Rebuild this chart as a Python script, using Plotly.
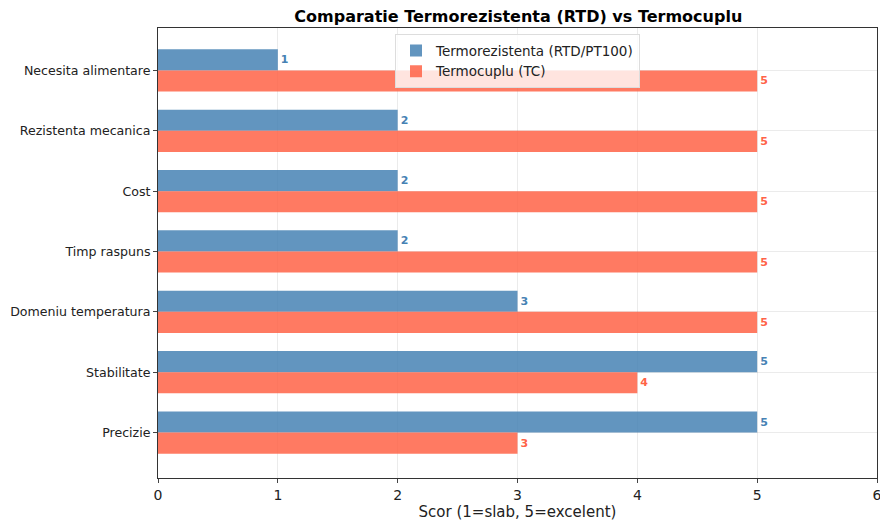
import plotly.graph_objects as go

categories = ["Precizie", "Stabilitate", "Domeniu temperatura", "Timp raspuns",
              "Cost", "Rezistenta mecanica", "Necesita alimentare"]
rtd_scores = [5, 5, 3, 2, 2, 2, 1]
tc_scores = [3, 4, 5, 5, 5, 5, 5]
x_ticks = [0, 1, 2, 3, 4, 5, 6]

pos = list(range(len(categories)))
h = 0.35

fig = go.Figure()
fig.add_trace(go.Bar(
    y=pos, x=rtd_scores, orientation="h", name="Termorezistenta (RTD/PT100)",
    width=h, offset=0, marker=dict(color="rgba(70,130,180,0.85)", line_width=0),
    text=[f"<b>{v}</b>" for v in rtd_scores], textposition="outside",
    outsidetextfont=dict(color="#4682B4", size=11), cliponaxis=False,
))
fig.add_trace(go.Bar(
    y=pos, x=tc_scores, orientation="h", name="Termocuplu (TC)",
    width=h, offset=-h, marker=dict(color="rgba(255,99,71,0.85)", line_width=0),
    text=[f"<b>{v}</b>" for v in tc_scores], textposition="outside",
    outsidetextfont=dict(color="#FF6347", size=11), cliponaxis=False,
))

fig.update_layout(
    width=880, height=524,
    margin=dict(l=158, r=3, t=28, b=46, autoexpand=False),
    plot_bgcolor="white", paper_bgcolor="white",
    font=dict(family="DejaVu Sans", size=12, color="#222"),
    title=dict(text="<b>Comparatie Termorezistenta (RTD) vs Termocuplu</b>",
               x=0.589, xanchor="center", y=0.969, yanchor="middle",
               font=dict(size=16, color="black")),
    barmode="overlay",
    showlegend=True,
    legend=dict(x=0.5, xanchor="center", y=0.986, yanchor="top",
                bgcolor="rgba(255,255,255,0.8)", bordercolor="#ddd", borderwidth=1,
                font=dict(size=13.5), tracegroupgap=0, itemwidth=30),
)
fig.update_xaxes(
    range=[0, 6], tickvals=x_ticks, showgrid=True, gridcolor="rgba(0,0,0,0.08)",
    showline=True, linecolor="#333", linewidth=1, mirror=True,
    ticks="outside", ticklen=4, tickfont=dict(size=14), automargin=False,
    ticklabeloverflow="allow",
    title=dict(text="Scor (1=slab, 5=excelent)", font=dict(size=15), standoff=3),
    zeroline=False,
)
fig.update_yaxes(
    range=[-0.7525, 6.7025], tickvals=pos, ticktext=categories,
    showgrid=True, gridcolor="rgba(0,0,0,0.08)",
    showline=True, linecolor="#333", linewidth=1, mirror=True, automargin=False,
    ticks="outside", ticklen=4, tickfont=dict(size=12.6), zeroline=False,
)

# drop the default page margin so the 880x524 figure fills the window
fig.write_html("out.html", config={"displayModeBar": False},
               post_script="document.body.style.margin='0';")
